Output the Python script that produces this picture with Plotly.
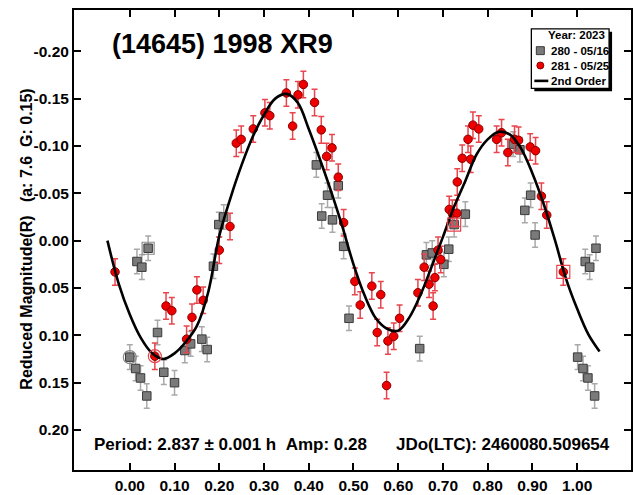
import plotly.graph_objects as go

# ---------------- data ----------------
phase_280 = [0.000, 0.013, 0.016, 0.024, 0.027, 0.038, 0.041, 0.062, 0.076, 0.100,
             0.123, 0.136, 0.161, 0.173, 0.187, 0.199, 0.210, 0.417, 0.429, 0.442,
             0.453, 0.466, 0.478, 0.490, 0.648, 0.663, 0.676, 0.702, 0.713, 0.725,
             0.750, 0.857, 0.872, 0.883, 0.896, 0.906, 1.001, 1.013, 1.018, 1.024,
             1.028, 1.039, 1.042]
mag_280 = [0.123, 0.135, 0.022, 0.145, 0.028, 0.164, 0.008, 0.097, 0.139, 0.150,
           0.116, 0.109, 0.104, 0.115, 0.027, -0.017, -0.025, -0.080, -0.026, -0.048,
           -0.022, -0.058, 0.006, 0.082, 0.114, 0.015, 0.013, 0.025, 0.009, -0.017,
           -0.028, -0.102, -0.096, -0.032, -0.048, -0.006, 0.123, 0.135, 0.022, 0.145,
           0.028, 0.164, 0.008]
err_280 = [0.013] * len(phase_280)

phase_281 = [-0.033, 0.056, 0.081, 0.094, 0.127, 0.139, 0.150, 0.164, 0.200, 0.224,
             0.238, 0.249, 0.276, 0.302, 0.313, 0.350, 0.364, 0.376, 0.388, 0.413,
             0.428, 0.440, 0.452, 0.466, 0.478, 0.503, 0.515, 0.541, 0.553, 0.561,
             0.574, 0.577, 0.590, 0.603, 0.644, 0.658, 0.669, 0.678, 0.682, 0.689,
             0.695, 0.714, 0.721, 0.731, 0.732, 0.743, 0.756, 0.762, 0.767, 0.780,
             0.820, 0.831, 0.845, 0.860, 0.869, 0.895, 0.907, 0.920, 0.932, 0.969]
mag_281 = [0.033, 0.122, 0.069, 0.074, 0.104, 0.081, 0.052, 0.063, 0.010, -0.015,
           -0.103, -0.107, -0.118, -0.135, -0.132, -0.156, -0.121, -0.154, -0.165, -0.146,
           -0.117, -0.089, -0.098, -0.067, -0.019, 0.043, 0.068, 0.048, 0.097, 0.057,
           0.153, 0.106, 0.101, 0.082, 0.055, 0.028, 0.046, 0.069, 0.039, 0.010,
           0.020, -0.033, -0.029, -0.029, -0.062, -0.087, -0.107, -0.086, -0.122, -0.118,
           -0.107, -0.114, -0.093, -0.107, -0.106, -0.099, -0.095, -0.047, -0.027, 0.033]
err_281 = [0.014] * len(phase_281)

fit_phase = [-0.050, -0.025, 0.000, 0.025, 0.050, 0.075, 0.100, 0.125, 0.150, 0.175,
             0.200, 0.225, 0.250, 0.275, 0.300, 0.325, 0.350, 0.375, 0.400, 0.425,
             0.450, 0.475, 0.500, 0.525, 0.550, 0.575, 0.600, 0.625, 0.650, 0.675,
             0.700, 0.725, 0.750, 0.775, 0.800, 0.825, 0.850, 0.875, 0.900, 0.925,
             0.950, 0.975, 1.000, 1.025, 1.050]
fit_mag = [0.000, 0.045, 0.078, 0.103, 0.119, 0.125, 0.119, 0.107, 0.090, 0.055,
           -0.005, -0.045, -0.080, -0.110, -0.133, -0.150, -0.155, -0.146, -0.118, -0.086,
           -0.052, -0.015, 0.025, 0.058, 0.082, 0.093, 0.095, 0.081, 0.057, 0.027,
           -0.004, -0.036, -0.063, -0.091, -0.107, -0.115, -0.112, -0.097, -0.071, -0.039,
           -0.001, 0.040, 0.072, 0.099, 0.117]

# first / last point markers
gray_circle_x, gray_circle_y = [0.000], [0.123]
red_circle_x, red_circle_y = [0.056], [0.122]
gray_box_x, gray_box_y = [0.041], [0.008]
red_box_x, red_box_y = [0.725, 0.969], [-0.017, 0.033]

x_ticks = [0.0, 0.1, 0.2, 0.3, 0.4, 0.5, 0.6, 0.7, 0.8, 0.9, 1.0]
x_tick_text = ["0.00", "0.10", "0.20", "0.30", "0.40", "0.50", "0.60", "0.70", "0.80", "0.90", "1.00"]
y_ticks = [-0.20, -0.15, -0.10, -0.05, 0.00, 0.05, 0.10, 0.15, 0.20]
y_tick_text = ["-0.20", "-0.15", "-0.10", "-0.05", "0.00", "0.05", "0.10", "0.15", "0.20"]

legend_title = "Year: 2023"
legend_labels = ["280 - 05/16", "281 - 05/25", "2nd Order"]

FONT = "Liberation Sans, Arial, sans-serif"
W, H = 634, 495
ML, MR, MT, MB = 74, 1, 10, 21
PW, PH = W - ML - MR, H - MT - MB


def px(xp):  # layout helper: page pixel -> paper x
    return (xp - ML) / PW


def py(yp):  # layout helper: page pixel -> paper y
    return 1 - (yp - MT) / PH


fig = go.Figure()

fig.add_trace(go.Scatter(
    x=phase_280, y=mag_280, mode="markers", name=legend_labels[0], showlegend=False,
    marker=dict(symbol="square", size=8.5, color="#7a7a7a", line=dict(color="#3a3a3a", width=1)),
    error_y=dict(type="data", array=err_280, color="#a9a9a9", thickness=1.5, width=3),
))
fig.add_trace(go.Scatter(
    x=phase_281, y=mag_281, mode="markers", name=legend_labels[1], showlegend=False,
    marker=dict(symbol="circle", size=8.5, color="#ee0000", line=dict(color="#8a0000", width=1)),
    error_y=dict(type="data", array=err_281, color="#e8454d", thickness=1.5, width=3),
))
fig.add_trace(go.Scatter(
    x=fit_phase, y=fit_mag, mode="lines", name=legend_labels[2], showlegend=False,
    line=dict(color="black", width=2.6, shape="spline", smoothing=1.0),
))
# highlight markers
fig.add_trace(go.Scatter(x=gray_circle_x, y=gray_circle_y, mode="markers", showlegend=False,
                         marker=dict(symbol="circle-open", size=13, color="#8a8a8a", line=dict(width=1.2))))
fig.add_trace(go.Scatter(x=red_circle_x, y=red_circle_y, mode="markers", showlegend=False,
                         marker=dict(symbol="circle-open", size=13, color="#e8454d", line=dict(width=1.2))))
fig.add_trace(go.Scatter(x=gray_box_x, y=gray_box_y, mode="markers", showlegend=False,
                         marker=dict(symbol="square-open", size=12, color="#8a8a8a", line=dict(width=1.2))))
fig.add_trace(go.Scatter(x=red_box_x, y=red_box_y, mode="markers", showlegend=False,
                         marker=dict(symbol="square-open", size=13, color="#e8454d", line=dict(width=1.2))))

axis_common = dict(
    showgrid=False, zeroline=False, showline=True, linecolor="black", linewidth=2,
    mirror="ticks", ticks="inside", ticklen=7, tickwidth=1.5, tickcolor="black",
    tickfont=dict(family=FONT, size=15.5, color="black", weight="bold"),
)

# ---- hand-drawn legend box (shadow, frame, symbols) ----
shapes = [
    dict(type="rect", xref="paper", yref="paper", x0=px(536), x1=px(614), y0=py(92), y1=py(32),
         fillcolor="black", line=dict(width=0), layer="above"),
    dict(type="rect", xref="paper", yref="paper", x0=px(533), x1=px(611), y0=py(89), y1=py(29),
         fillcolor="white", line=dict(color="black", width=1.3), layer="above"),
    dict(type="rect", xref="paper", yref="paper", x0=px(538), x1=px(546), y0=py(55), y1=py(47),
         fillcolor="#7a7a7a", line=dict(color="#3a3a3a", width=1), layer="above"),
    dict(type="circle", xref="paper", yref="paper", x0=px(538.5), x1=px(545.5), y0=py(69.5), y1=py(62.5),
         fillcolor="#ee0000", line=dict(color="#8a0000", width=1), layer="above"),
    dict(type="line", xref="paper", yref="paper", x0=px(536), x1=px(550), y0=py(81.5), y1=py(81.5),
         line=dict(color="black", width=2.6), layer="above"),
]

legend_font = dict(family=FONT, size=11.5, color="black")
annotations = [
    dict(text="<b>" + legend_title + "</b>", xref="paper", yref="paper", x=px(609), y=py(35.5),
         xanchor="right", yanchor="middle", showarrow=False, font=legend_font),
    dict(text="<b>" + legend_labels[0] + "</b>", xref="paper", yref="paper", x=px(551), y=py(51),
         xanchor="left", yanchor="middle", showarrow=False, font=legend_font),
    dict(text="<b>" + legend_labels[1] + "</b>", xref="paper", yref="paper", x=px(551), y=py(66),
         xanchor="left", yanchor="middle", showarrow=False, font=legend_font),
    dict(text="<b>" + legend_labels[2] + "</b>", xref="paper", yref="paper", x=px(551), y=py(81.5),
         xanchor="left", yanchor="middle", showarrow=False, font=legend_font),
    dict(text="<b>(14645) 1998 XR9</b>", xref="paper", yref="paper", x=px(110), y=py(44),
         xanchor="left", yanchor="middle", showarrow=False,
         font=dict(family=FONT, size=27, color="black")),
    dict(text="<b>Period: 2.837 ± 0.001 h\u00a0\u00a0Amp: 0.28</b>", xref="paper", yref="paper",
         x=px(92), y=py(448), xanchor="left", yanchor="middle", showarrow=False,
         font=dict(family=FONT, size=17, color="black")),
    dict(text="<b>JDo(LTC): 2460080.509654</b>", xref="paper", yref="paper",
         x=px(395), y=py(448), xanchor="left", yanchor="middle", showarrow=False,
         font=dict(family=FONT, size=17, color="black")),
    dict(text="<b>Reduced Magnitude(R)\u00a0\u00a0\u00a0(a: 7.6\u00a0\u00a0G: 0.15)</b>",
         xref="paper", yref="paper", x=px(26), y=py(241.5), xanchor="center", yanchor="middle",
         textangle=-90, showarrow=False, font=dict(family=FONT, size=16, color="black")),
]

fig.update_layout(
    width=W, height=H,
    margin=dict(l=ML, r=MR, t=MT, b=MB),
    paper_bgcolor="white", plot_bgcolor="white",
    font=dict(family=FONT, color="black"),
    xaxis=dict(range=[-0.1247, 1.1203], tickvals=x_ticks, ticktext=x_tick_text, **axis_common),
    yaxis=dict(range=[0.2422, -0.2436], tickvals=y_ticks, ticktext=y_tick_text, **axis_common),
    showlegend=False,
    shapes=shapes,
    annotations=annotations,
)

fig.write_html("out.html", config={"displayModeBar": False},
               post_script="document.body.style.margin='0';")
